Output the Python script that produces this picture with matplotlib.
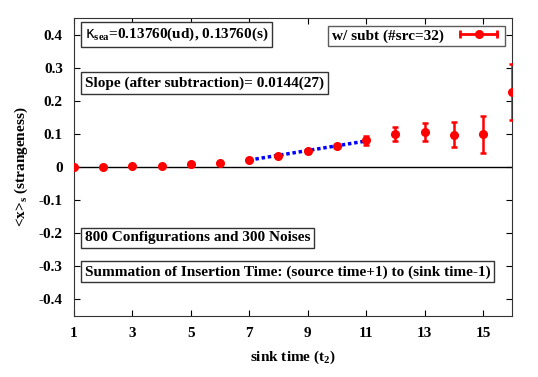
import numpy as np
import matplotlib.pyplot as plt
from matplotlib.lines import Line2D
from matplotlib.legend_handler import HandlerLine2D, HandlerTuple

# data
t_sink = [1, 2, 3, 4, 5, 6, 7, 8, 9, 10, 11, 12, 13, 14, 15, 16]
x_s = [0.0, 0.001, 0.002, 0.004, 0.008, 0.013, 0.021, 0.034, 0.048, 0.063,
       0.081, 0.100, 0.106, 0.098, 0.099, 0.226]
x_s_err = [0.001, 0.001, 0.001, 0.001, 0.002, 0.002, 0.003, 0.004, 0.005, 0.007,
           0.013, 0.02, 0.028, 0.039, 0.056, 0.085]

fit_range = [7, 11]
fit_slope = 0.0144
fit_intercept = 0.021  # value at t=7

x_ticks = [1, 3, 5, 7, 9, 11, 13, 15]
y_ticks = [-0.4, -0.3, -0.2, -0.1, 0, 0.1, 0.2, 0.3, 0.4]
y_ticklabels = ["-0.4", "-0.3", "-0.2", "-0.1", "0", "0.1", "0.2", "0.3", "0.4"]

plt.rcParams["font.family"] = ["Liberation Serif", "DejaVu Serif"]
plt.rcParams["font.weight"] = "bold"
plt.rcParams["mathtext.fontset"] = "custom"
plt.rcParams["mathtext.rm"] = "Liberation Serif:bold"
plt.rcParams["mathtext.bf"] = "Liberation Serif:bold"
plt.rcParams["mathtext.it"] = "DejaVu Sans:normal"

fs = 11

fig = plt.figure(figsize=(5.38, 3.77), dpi=100)
ax = fig.add_axes([0.1375, 0.162, 0.8145, 0.79])

ax.axhline(0, color="black", lw=1)

fx = np.array(fit_range)
fy = fit_intercept + fit_slope * (fx - fit_range[0])
ax.plot(fx, fy, color="blue", lw=2.5, ls=(0, (1, 0.8)), zorder=3)

ax.errorbar(t_sink, x_s, yerr=x_s_err, fmt="o", color="red", ms=5.5,
            elinewidth=1.8, capsize=2.5, capthick=1.8, zorder=4)

ax.set_xlim(1, 16)
ax.set_ylim(-0.45, 0.45)
ax.set_xticks(x_ticks)
ax.set_yticks(y_ticks)
ax.set_yticklabels(y_ticklabels)
ax.tick_params(direction="in", top=True, right=True, length=4, labelsize=fs, pad=8)
for lab in ax.get_xticklabels() + ax.get_yticklabels():
    lab.set_fontweight("bold")
for s in ax.spines.values():
    s.set_color("#333333")

ax.set_xlabel(r"sink time (t$_\mathbf{2}$)", fontsize=fs, fontweight="bold", labelpad=6)
ax.set_ylabel(r"<x>$_\mathbf{s}$ (strangeness)", fontsize=fs, fontweight="bold", labelpad=6)

box = dict(boxstyle="square,pad=0.25", fc="white", ec="#333333", lw=1)
txt_kw = dict(transform=ax.transAxes, fontsize=fs, fontweight="bold", bbox=box, va="center")
ax.text(0.025, 0.946, r"$\kappa_{\mathbf{sea}}$=0.13760(ud), 0.13760(s)", **txt_kw)
ax.text(0.025, 0.782, "Slope (after subtraction)= 0.0144(27)", **txt_kw)
ax.text(0.025, 0.262, "800 Configurations and 300 Noises", **txt_kw)
ax.text(0.025, 0.148, "Summation of Insertion Time: (source time+1) to (sink time-1)", **txt_kw)

# legend handle: horizontal bar with end caps and a dot
bar = Line2D([], [], color="red", lw=2, marker="|", ms=6, mew=2)
dot = Line2D([], [], color="red", ls="none", marker="o", ms=5.5)
leg = ax.legend([(bar, dot)], ["w/ subt (#src=32)"], loc="upper right", fontsize=fs,
                frameon=True, fancybox=False, edgecolor="#333333", markerfirst=False,
                handlelength=3, borderaxespad=0.5, borderpad=0.2,
                handler_map={bar: HandlerLine2D(numpoints=2),
                             dot: HandlerLine2D(numpoints=1),
                             tuple: HandlerTuple(ndivide=1)})
leg.get_frame().set_linewidth(1)

fig.savefig("out.png", dpi=100)
